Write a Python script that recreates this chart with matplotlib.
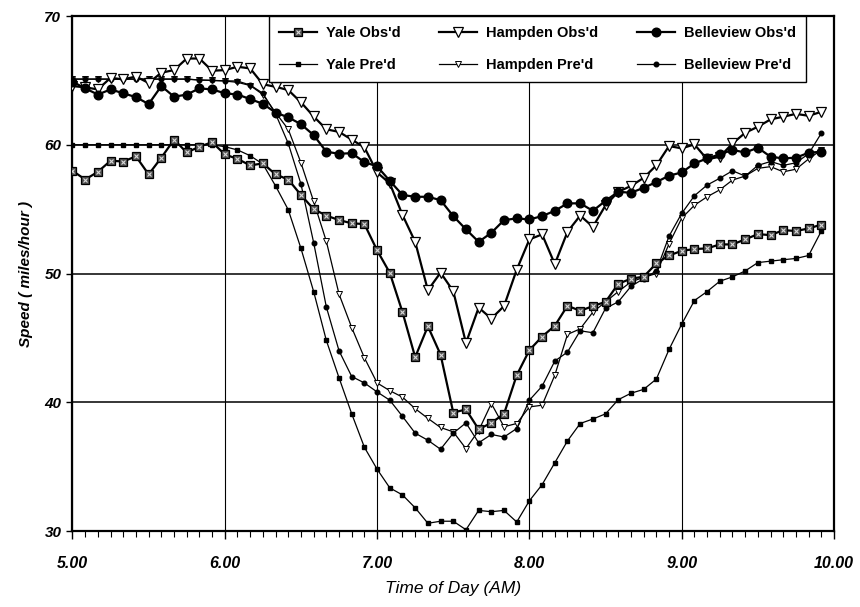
import numpy as np
import matplotlib
matplotlib.use("Agg")
import matplotlib.pyplot as plt
from matplotlib.ticker import MultipleLocator, FormatStrFormatter
from matplotlib.legend_handler import HandlerTuple

plt.rcParams['font.family'] = ['Liberation Sans', 'DejaVu Sans']

# 5-minute samples from 5:00 to 9:55 AM
time_of_day = 5.0 + np.arange(60) / 12.0

yale_obs = [57.98, 57.3, 57.9, 58.76, 58.7, 59.1, 57.7, 59.0, 60.4, 59.4,
            59.85, 60.2, 59.25, 58.9, 58.4, 58.55, 57.7, 57.3, 56.1, 55.0,
            54.5, 54.15, 53.9, 53.84, 51.8, 50.05, 47.0, 43.5, 45.9, 43.7,
            39.2, 39.44, 37.9, 38.4, 39.1, 42.1, 44.05, 45.1, 45.94, 47.5,
            47.1, 47.47, 47.8, 49.2, 49.6, 49.75, 50.78, 51.4, 51.76, 51.9,
            51.95, 52.26, 52.26, 52.65, 53.06, 52.98, 53.37, 53.3, 53.5, 53.8]

yale_pre = [60.0, 60.0, 60.0, 60.0, 60.0, 60.0, 60.0, 60.0, 60.0, 60.0,
            60.0, 60.0, 59.85, 59.6, 59.15, 58.5, 56.8, 54.95, 51.95, 48.6,
            44.8, 41.9, 39.1, 36.5, 34.8, 33.35, 32.8, 31.8, 30.6, 30.76,
            30.76, 30.1, 31.6, 31.5, 31.6, 30.7, 32.35, 33.6, 35.3, 37.0,
            38.35, 38.7, 39.1, 40.2, 40.7, 41.0, 41.8, 44.1, 46.07, 47.9,
            48.6, 49.4, 49.74, 50.2, 50.85, 50.96, 51.07, 51.17, 51.4, 53.3]

hampden_obs = [64.56, 64.46, 64.3, 65.2, 65.08, 65.3, 64.8, 65.6, 65.8, 66.7,
               66.7, 65.75, 65.8, 66.06, 65.93, 64.7, 64.5, 64.25, 63.3, 62.2,
               61.2, 61.0, 60.4, 59.8, 57.85, 57.0, 54.55, 52.46, 48.7, 50.07,
               48.63, 44.6, 47.35, 46.5, 47.47, 50.3, 52.65, 53.04, 50.73, 53.24,
               54.5, 53.63, 55.3, 56.35, 56.8, 57.43, 58.4, 59.9, 59.72, 60.03,
               58.87, 59.07, 60.1, 60.93, 61.4, 61.97, 62.18, 62.4, 62.25, 62.56]

hampden_pre = [65.1, 65.1, 65.1, 65.1, 65.1, 65.1, 65.1, 65.1, 65.1, 65.1,
               65.03, 65.0, 64.95, 64.85, 64.6, 63.9, 62.5, 61.2, 58.6, 55.6,
               52.5, 48.4, 45.8, 43.45, 41.5, 40.9, 40.4, 39.5, 38.75, 38.04,
               37.7, 36.4, 37.8, 39.9, 38.1, 38.35, 39.64, 39.77, 42.1, 45.27,
               45.7, 47.0, 47.8, 48.6, 49.35, 49.7, 50.0, 52.3, 54.3, 55.3,
               55.96, 56.5, 57.26, 57.57, 58.17, 58.3, 57.9, 58.1, 58.9, 59.6]

belleview_obs = [64.9, 64.38, 63.9, 64.3, 64.0, 63.7, 63.16, 64.56, 63.73, 63.9,
                 64.38, 64.3, 64.0, 63.9, 63.55, 63.18, 62.5, 62.13, 61.6, 60.75,
                 59.46, 59.3, 59.35, 58.65, 58.32, 57.2, 56.1, 55.96, 55.96, 55.7,
                 54.46, 53.43, 52.46, 53.16, 54.15, 54.28, 54.2, 54.46, 54.87, 55.45,
                 55.45, 54.87, 55.65, 56.35, 56.27, 56.66, 57.1, 57.6, 57.85, 58.55,
                 58.94, 59.25, 59.6, 59.4, 59.77, 59.07, 58.94, 59.0, 59.38, 59.46]

belleview_pre = [65.1, 65.1, 65.1, 65.1, 65.1, 65.1, 65.1, 65.1, 65.1, 65.1,
                 65.03, 65.0, 64.97, 64.95, 64.64, 64.0, 62.4, 60.1, 56.95, 52.4,
                 47.4, 44.0, 42.0, 41.5, 40.8, 40.16, 38.9, 37.6, 37.05, 36.35,
                 37.6, 38.4, 36.85, 37.5, 37.3, 37.96, 40.16, 41.25, 43.2, 43.9,
                 45.55, 45.4, 47.3, 47.8, 49.0, 49.6, 50.2, 52.9, 54.67, 56.04,
                 56.87, 57.4, 57.98, 57.57, 58.4, 58.7, 58.4, 58.6, 59.3, 60.9]

fig = plt.figure(figsize=(8.6, 6.07), dpi=100)
ax = fig.add_axes([0.0843, 0.1252, 0.8855, 0.8484])

# observed series: heavy lines, large markers; predicted: thin lines, small markers
l1, = ax.plot(time_of_day, yale_obs, color='black', lw=1.6, marker='s', ms=5.8,
              mfc='#505050', mec='black', mew=0.9, zorder=5)
l1x, = ax.plot(time_of_day, yale_obs, ls='none', marker='x', ms=3.2,
               mec='#d8d8d8', mew=0.8, zorder=6)
l2, = ax.plot(time_of_day, yale_pre, color='black', lw=0.9, marker='s', ms=3.2,
              mfc='black', mec='black', zorder=4)
l3, = ax.plot(time_of_day, hampden_obs, color='black', lw=1.6, marker='v', ms=6.6,
              mfc='white', mec='black', mew=0.9, zorder=5)
l4, = ax.plot(time_of_day, hampden_pre, color='black', lw=0.9, marker='v', ms=3.8,
              mfc='white', mec='black', mew=0.7, zorder=3)
l5, = ax.plot(time_of_day, belleview_obs, color='black', lw=1.6, marker='o', ms=6.2,
              mfc='black', mec='black', zorder=5)
l6, = ax.plot(time_of_day, belleview_pre, color='black', lw=0.9, marker='o', ms=3.3,
              mfc='black', mec='black', zorder=4)

ax.set_xlim(5.0, 10.0)
ax.set_ylim(30, 70)
ax.xaxis.set_major_locator(MultipleLocator(1.0))
ax.xaxis.set_minor_locator(MultipleLocator(1.0 / 12))
ax.xaxis.set_major_formatter(FormatStrFormatter('%.2f'))
ax.yaxis.set_major_locator(MultipleLocator(10))

ax.grid(axis='y', which='major', color='black', lw=1.1, zorder=1)
ax.grid(axis='x', which='major', color='black', lw=0.8, zorder=1)
ax.set_axisbelow(True)

for sp in ax.spines.values():
    sp.set_linewidth(1.6)
    sp.set_color('black')

ax.tick_params(axis='x', which='major', direction='out', length=6, width=1.0,
               pad=12, labelsize=11.5)
ax.tick_params(axis='x', which='minor', direction='out', length=4, width=0.8)
ax.tick_params(axis='y', which='major', direction='out', length=4, width=1.0,
               pad=4, labelsize=11)
for lab in ax.get_xticklabels() + ax.get_yticklabels():
    lab.set_fontweight('bold')
    lab.set_fontstyle('italic')

ax.set_xlabel('Time of Day (AM)', fontsize=12.5, fontstyle='italic', labelpad=7)
ax.set_ylabel('Speed ( miles/hour )', fontsize=11, fontweight='bold',
              fontstyle='italic', labelpad=8)

handles = [(l1, l1x), l2, l3, l4, l5, l6]
labels = ["Yale Obs'd", "Yale Pre'd", "Hampden Obs'd", "Hampden Pre'd",
          "Belleview Obs'd", "Belleview Pre'd"]
leg = ax.legend(handles, labels, ncol=3, loc='upper left',
                bbox_to_anchor=(0.258, 1.0, 0.705, 0.0), mode='expand',
                borderaxespad=0, frameon=True, fancybox=False,
                edgecolor='black', framealpha=1, handlelength=2.6,
                handletextpad=0.6, labelspacing=1.2, borderpad=0.7,
                columnspacing=0.8,
                handler_map={tuple: HandlerTuple(ndivide=1)},
                prop={'weight': 'bold', 'size': 10.5})
leg.get_frame().set_linewidth(1.0)
leg.set_zorder(10)

fig.savefig('out.png', dpi=100)
